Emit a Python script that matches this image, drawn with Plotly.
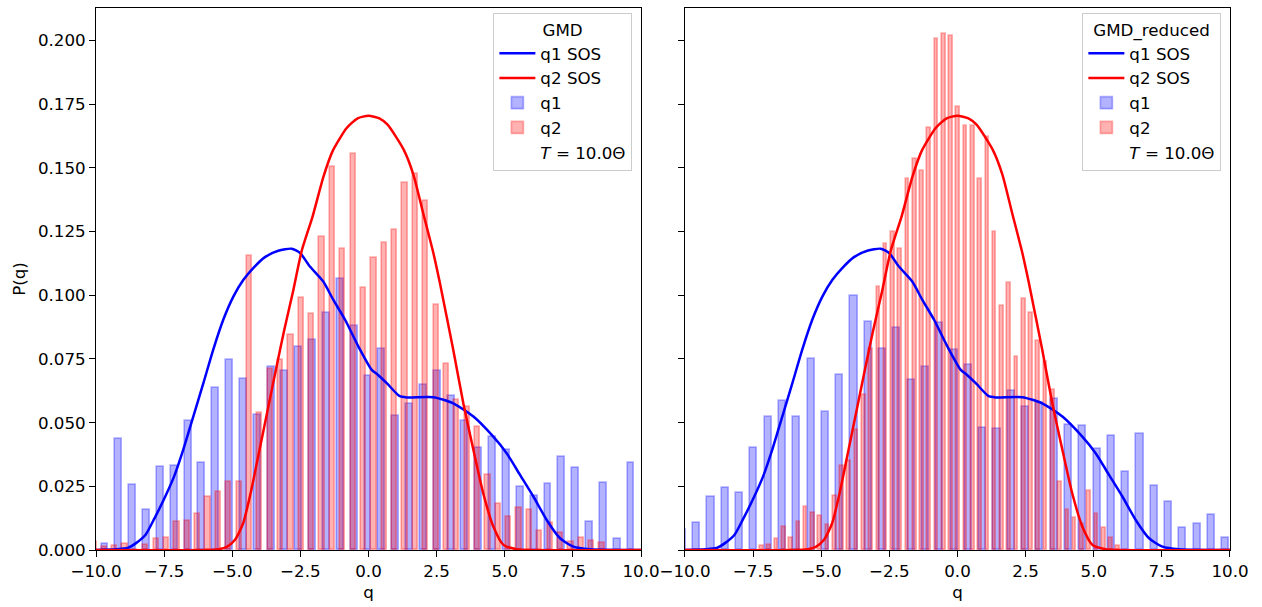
import numpy as np
import plotly.graph_objects as go
from plotly.subplots import make_subplots

# ---------------- data ----------------
# Histogram q1, panel "GMD" (bin centres = first + k * width)
q1_gmd_first_center = -9.67
q1_gmd_bin_width = 0.508
q1_gmd_heights = [0.0024, 0.0435, 0.0255, 0.0156, 0.0326, 0.0331, 0.0508, 0.0342, 0.0638, 0.0747,
                  0.0672, 0.0532, 0.0720, 0.0701, 0.0798, 0.0826, 0.0929, 0.1064, 0.0878, 0.0685,
                  0.0789, 0.0528, 0.0572, 0.0647, 0.0702, 0.0605, 0.0508, 0.0400, 0.0443, 0.0394,
                  0.0249, 0.0213, 0.0259, 0.0364, 0.0322, 0.0111, 0.0265, 0.0042, 0.0343]

# Histogram q2, panel "GMD"
q2_gmd_first_center = -10.075
q2_gmd_bin_width = 0.3805
q2_gmd_heights = [0.0030, 0.0010, 0.0016, 0.0022, 0.0000, 0.0018, 0.0042, 0.0048, 0.0111, 0.0115,
                  0.0140, 0.0207, 0.0229, 0.0268, 0.0268, 0.1155, 0.0537, 0.0710, 0.0747, 0.0845,
                  0.0989, 0.0926, 0.1227, 0.1504, 0.1181, 0.1555, 0.1028, 0.1145, 0.1205, 0.1256,
                  0.1439, 0.1475, 0.1369, 0.0961, 0.0730, 0.0587, 0.0560, 0.0482, 0.0295, 0.0180,
                  0.0128, 0.0164, 0.0157, 0.0076, 0.0105, 0.0065, 0.0030, 0.0048, 0.0035, 0.0029]

# Histogram q1, panel "GMD_reduced"
q1_red_first_center = -10.096
q1_red_bin_width = 0.5248
q1_red_heights = [0.0080, 0.0107, 0.0210, 0.0242, 0.0225, 0.0400, 0.0524, 0.0585, 0.0521, 0.0749,
                  0.0543, 0.0688, 0.0998, 0.0897, 0.0790, 0.0873, 0.0668, 0.0720, 0.0893, 0.0786,
                  0.0727, 0.0478, 0.0474, 0.0626, 0.0563, 0.0576, 0.0593, 0.0491, 0.0487, 0.0396,
                  0.0448, 0.0308, 0.0457, 0.0251, 0.0190, 0.0085, 0.0102, 0.0138, 0.0046]

# Histogram q2, panel "GMD_reduced"
q2_red_first_center = -7.174
q2_red_bin_width = 0.2668
q2_red_heights = [0.0016, 0.0020, 0.0042, 0.0092, 0.0048, 0.0111, 0.0170, 0.0147, 0.0134, 0.0098,
                  0.0212, 0.0331, 0.0350, 0.0472, 0.0607, 0.0789, 0.1033, 0.1200, 0.1250, 0.1183,
                  0.1457, 0.1535, 0.1487, 0.1657, 0.2007, 0.2026, 0.2017, 0.1740, 0.1663, 0.1663,
                  0.1458, 0.1620, 0.1247, 0.0959, 0.1048, 0.0757, 0.0985, 0.0930, 0.0819, 0.0740,
                  0.0630, 0.0268, 0.0157, 0.0127, 0.0101, 0.0232, 0.0140, 0.0088, 0.0048, 0.0017]

# Sum-over-states densities (same in both panels)
q1_sos_x = [-10.0, -9.27, -8.84, -8.52, -8.18, -7.85, -7.48, -7.13, -6.80, -6.43, -6.06, -5.70,
            -5.33, -4.96, -4.59, -4.23, -3.80, -3.31, -2.82, -2.51, -2.15, -1.66, -1.29, -0.86,
            -0.37, 0.12, 0.30, 0.67, 1.13, 1.40, 2.38, 3.11, 3.85, 4.58, 5.07, 5.56, 6.05, 6.54,
            7.03, 7.52, 8.13, 10.0]
q1_sos_y = [0.0, 0.0003, 0.0008, 0.0028, 0.0060, 0.0125, 0.0205, 0.0290, 0.0393, 0.0524, 0.0655,
            0.0786, 0.0904, 0.0995, 0.1061, 0.1107, 0.1150, 0.1175, 0.1183, 0.1166, 0.1113, 0.1054,
            0.0982, 0.0904, 0.0799, 0.0707, 0.0692, 0.0655, 0.0605, 0.0599, 0.0600, 0.0576, 0.0524,
            0.0445, 0.0380, 0.0295, 0.0210, 0.0118, 0.0046, 0.0013, 0.0003, 0.0]

q2_sos_x = [-10.0, -6.0, -5.5, -5.2, -4.9, -4.6, -4.3, -4.0, -3.7, -3.4, -3.1, -2.78, -2.45, -2.05,
            -1.65, -1.3, -0.8, -0.4, 0.0, 0.4, 0.7, 1.3, 1.65, 2.0, 2.38, 2.62, 3.11, 3.48, 3.85,
            4.21, 4.58, 4.95, 5.44, 6.0, 10.0]
q2_sos_y = [0.0, 0.0, 0.0003, 0.0012, 0.0040, 0.0105, 0.0236, 0.0393, 0.0550, 0.0707, 0.0860,
            0.1010, 0.1175, 0.1310, 0.1467, 0.1570, 0.1657, 0.1695, 0.1705, 0.1695, 0.1670, 0.1570,
            0.1473, 0.1325, 0.1166, 0.1048, 0.0786, 0.0576, 0.0393, 0.0223, 0.0092, 0.0020, 0.0003,
            0.0, 0.0]

panel_titles = ["GMD", "GMD_reduced"]
series_names = ["q1 SOS", "q2 SOS", "q1", "q2"]
temperature_label = "<i>T</i> = 10.0Θ"
x_ticks = [-10.0, -7.5, -5.0, -2.5, 0.0, 2.5, 5.0, 7.5, 10.0]
y_ticks = [0.000, 0.025, 0.050, 0.075, 0.100, 0.125, 0.150, 0.175, 0.200]

# ---------------- figure ----------------
FONT = "DejaVu Sans"
FS = 16.7
BLUE = "#0000ff"
RED = "#ff0000"
BLUE_A = "rgba(0,0,255,0.3)"
RED_A = "rgba(255,0,0,0.3)"

fig = make_subplots(rows=1, cols=2, shared_yaxes=True, horizontal_spacing=0.0388)

hists = [
    [(q1_gmd_first_center, q1_gmd_bin_width, q1_gmd_heights),
     (q2_gmd_first_center, q2_gmd_bin_width, q2_gmd_heights)],
    [(q1_red_first_center, q1_red_bin_width, q1_red_heights),
     (q2_red_first_center, q2_red_bin_width, q2_red_heights)],
]

for col in (1, 2):
    leg = "legend" if col == 1 else "legend2"
    fig.add_trace(go.Scatter(x=q1_sos_x, y=q1_sos_y, mode="lines", name=series_names[0],
                             line=dict(color=BLUE, width=2.5, shape="spline", smoothing=0.6),
                             legend=leg), row=1, col=col)
    fig.add_trace(go.Scatter(x=q2_sos_x, y=q2_sos_y, mode="lines", name=series_names[1],
                             line=dict(color=RED, width=2.5, shape="spline", smoothing=0.6),
                             legend=leg), row=1, col=col)
    for i, (c0, w, h) in enumerate(hists[col - 1]):
        centers = c0 + w * np.arange(len(h))
        col_a = BLUE_A if i == 0 else RED_A
        fig.add_trace(go.Bar(x=centers, y=h, width=0.5 * w, name=series_names[2 + i],
                             marker=dict(color=col_a, line=dict(color=col_a, width=1.67)),
                             legend=leg), row=1, col=col)
    fig.add_trace(go.Scatter(x=[None], y=[None], mode="lines", name=temperature_label,
                             line=dict(color="rgba(0,0,0,0)", width=0),
                             legend=leg), row=1, col=col)

axis_common = dict(showline=True, mirror=True, linecolor="black", linewidth=1.33,
                   ticks="outside", ticklen=5.8, tickwidth=1.33, tickcolor="black",
                   showgrid=False, zeroline=False,
                   tickfont=dict(family=FONT, size=FS, color="black"))

for col in (1, 2):
    fig.update_xaxes(range=[-10, 10], tickvals=x_ticks, tickformat=".1f",
                     title=dict(text="q", font=dict(family=FONT, size=FS, color="black"), standoff=6),
                     row=1, col=col, **axis_common)
fig.update_yaxes(range=[0, 0.2128], tickvals=y_ticks, tickformat=".3f",
                 title=dict(text="P(q)", font=dict(family=FONT, size=FS, color="black"), standoff=8),
                 row=1, col=1, **axis_common)
fig.update_yaxes(range=[0, 0.2128], tickvals=y_ticks, showticklabels=False,
                 row=1, col=2, **axis_common)

legend_common = dict(bgcolor="rgba(255,255,255,0.8)", bordercolor="#cccccc", borderwidth=1.33,
                     font=dict(family=FONT, size=FS, color="black"), xanchor="right",
                     yanchor="top", y=0.991, traceorder="normal", itemwidth=36)

fig.update_layout(
    width=1262, height=607, autosize=False,
    margin=dict(l=96, r=32, t=8, b=57),
    paper_bgcolor="white", plot_bgcolor="white",
    barmode="overlay", bargap=0,
    font=dict(family=FONT, size=FS, color="black"),
    legend=dict(x=0.4727, title=dict(text=panel_titles[0], side="top center",
                                      font=dict(family=FONT, size=FS, color="black")),
                **legend_common),
    legend2=dict(x=0.9921, title=dict(text=panel_titles[1], side="top center",
                                       font=dict(family=FONT, size=FS, color="black")),
                 **legend_common),
)

fig.write_html("out.html")
